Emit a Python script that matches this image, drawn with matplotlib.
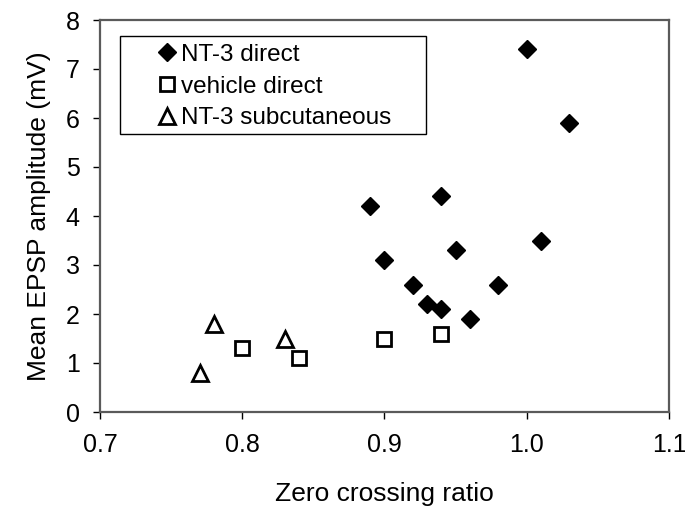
import matplotlib.pyplot as plt
from matplotlib.patches import Rectangle

plt.rcParams['font.family'] = ['Liberation Sans', 'DejaVu Sans']

# zero crossing ratio vs mean EPSP amplitude (mV)
nt3_direct_x = [1.00, 1.03, 0.89, 0.94, 1.01, 0.90, 0.95, 0.92, 0.98, 0.93, 0.94, 0.96]
nt3_direct_y = [7.4, 5.9, 4.2, 4.4, 3.5, 3.1, 3.3, 2.6, 2.6, 2.2, 2.1, 1.9]

vehicle_x = [0.80, 0.84, 0.90, 0.94]
vehicle_y = [1.3, 1.1, 1.5, 1.6]

nt3_subcut_x = [0.77, 0.78, 0.83]
nt3_subcut_y = [0.8, 1.8, 1.5]

xticks = [0.7, 0.8, 0.9, 1.0, 1.1]
xticklabels = ['0.7', '0.8', '0.9', '1.0', '1.1']
yticks = [0, 1, 2, 3, 4, 5, 6, 7, 8]

fig = plt.figure(figsize=(6.85, 5.07), dpi=100)
ax = fig.add_axes([100 / 685, 1 - 412 / 507, 569 / 685, 392 / 507])

ax.plot(nt3_direct_x, nt3_direct_y, 'D', color='black', markersize=9.5,
        linestyle='none', label='NT-3 direct', clip_on=False)
ax.plot(vehicle_x, vehicle_y, 's', markerfacecolor='white', markeredgecolor='black',
        markeredgewidth=2.0, markersize=10.5, linestyle='none', label='vehicle direct')
ax.plot(nt3_subcut_x, nt3_subcut_y, '^', markerfacecolor='white', markeredgecolor='black',
        markeredgewidth=2.0, markersize=11, linestyle='none', label='NT-3 subcutaneous')

ax.set_xlim(0.7, 1.1)
ax.set_ylim(0, 8)
ax.set_xticks(xticks)
ax.set_xticklabels(xticklabels)
ax.set_yticks(yticks)
ax.tick_params(direction='out', length=5, width=1, color='black', labelsize=18)
ax.tick_params(axis='y', pad=9.5)
ax.tick_params(axis='x', pad=10)

for s in ax.spines.values():
    s.set_color('#5a5a5a')
    s.set_linewidth(1.6)

ax.set_xlabel('Zero crossing ratio', fontsize=19, labelpad=18)
ax.set_ylabel('Mean EPSP amplitude (mV)', fontsize=19, labelpad=11)

# legend box drawn separately so the padding can be set freely
ax.add_patch(Rectangle((0.036, 0.709), 0.537, 0.251, transform=ax.transAxes,
                       fill=False, edgecolor='black', linewidth=1.0, zorder=4))
ax.legend(loc='upper left', bbox_to_anchor=(0.098, 0.939), frameon=False,
          fontsize=17.5, borderpad=0, borderaxespad=0, handlelength=0.9,
          handletextpad=0.15, labelspacing=0.4)

fig.savefig('out.png', dpi=100)
